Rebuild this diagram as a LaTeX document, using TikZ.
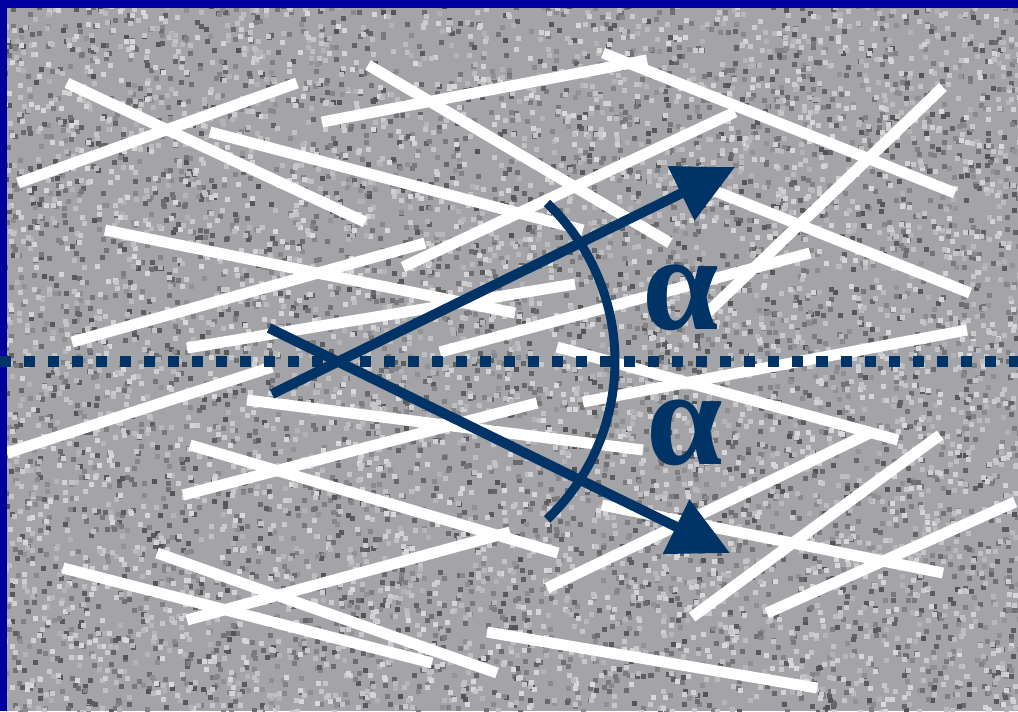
\documentclass[tikz,border=0pt]{standalone}
\usepackage{fontspec}
\usetikzlibrary{arrows.meta}
\newfontfamily\alphafont{Liberation Serif}
\definecolor{qqzzcc}{RGB}{0,51,102}
\definecolor{qqqqaq}{RGB}{0,0,160}
\definecolor{aqaqaq}{RGB}{164,164,168}
\begin{document}
\begin{tikzpicture}[line cap=butt,line join=miter,x=0.01cm,y=-0.01cm,
		fibre/.style={line width=0.11cm,color=white},
		navyline/.style={line width=0.10cm,color=qqzzcc},
		alphalabel/.style={text=qqzzcc,inner sep=0pt,font=\alphafont\bfseries\fontsize{39}{39}\selectfont}]
		\useasboundingbox (0,0) rectangle (1018,711);
		\fill [color=aqaqaq] (0,0) rectangle (1018,711);
		% speckled background
		\pgfmathsetseed{42}
		\foreach \i in {1,...,4500}{
			\pgfmathtruncatemacro{\px}{rnd*1018}
			\pgfmathtruncatemacro{\py}{rnd*711}
			\pgfmathtruncatemacro{\g}{10+rnd*40}
			\fill [color=black!\g!aqaqaq] (\px,\py) rectangle +(5,5);
		}
		\foreach \i in {1,...,4500}{
			\pgfmathtruncatemacro{\px}{rnd*1018}
			\pgfmathtruncatemacro{\py}{rnd*711}
			\pgfmathtruncatemacro{\g}{15+rnd*45}
			\fill [color=white!\g!aqaqaq] (\px,\py) rectangle +(5,5);
		}
		% fibres
		\draw [fibre] (67,83) -- (365,222);
		\draw [fibre] (18,183) -- (297,83);
		\draw [fibre] (368,65) -- (670,243);
		\draw [fibre] (322,122) -- (647,60);
		\draw [fibre] (210,132) -- (583,230);
		\draw [fibre] (403,267) -- (735,112);
		\draw [fibre] (105,230) -- (515,313);
		\draw [fibre] (72,342) -- (425,243);
		\draw [fibre] (187,348) -- (575,284);
		\draw [fibre] (440,352) -- (810,253);
		\draw [fibre] (603,53) -- (955,193);
		\draw [fibre] (943,87) -- (707,313);
		\draw [fibre] (700,185) -- (970,293);
		\draw [fibre] (583,402) -- (967,330);
		\draw [fibre] (557,347) -- (898,440);
		\draw [fibre] (547,588) -- (870,433);
		\draw [fibre] (692,617) -- (940,435);
		\draw [fibre] (767,613) -- (1015,502);
		\draw [fibre] (602,505) -- (943,573);
		\draw [fibre] (487,632) -- (817,688);
		\draw [fibre] (190,445) -- (558,553);
		\draw [fibre] (247,400) -- (643,450);
		\draw [fibre] (183,495) -- (537,403);
		\draw [fibre] (7,453) -- (272,367);
		\draw [fibre] (187,620) -- (510,532);
		\draw [fibre] (63,568) -- (432,663);
		\draw [fibre] (157,553) -- (497,673);
		% frame
		\fill [color=qqqqaq] (0,0) rectangle (1018,8);
		\fill [color=qqqqaq] (0,0) rectangle (7,711);
		% axis and angle
		\draw [navyline,line width=0.11cm,dash pattern=on 0.11cm off 0.13cm] (0,361) -- (1018,361);
		\coordinate (tailup) at (272,394);
		\coordinate (tipup) at (735,167);
		\coordinate (taildown) at (269,328);
		\coordinate (tipdown) at (730,553);
		\draw [navyline,line width=0.09cm] (547,203) arc[start angle=46.5,end angle=-46.5,radius=2.18cm];
		\draw [navyline,-{Triangle[length=0.6cm,width=0.58cm]}] (tailup) -- (tipup);
		\draw [navyline,-{Triangle[length=0.6cm,width=0.58cm]}] (taildown) -- (tipdown);
		\node [alphalabel] (alphaup) at (681,298) {α};
		\node [alphalabel] (alphadown) at (685,433) {α};
	\end{tikzpicture}
\end{document}
